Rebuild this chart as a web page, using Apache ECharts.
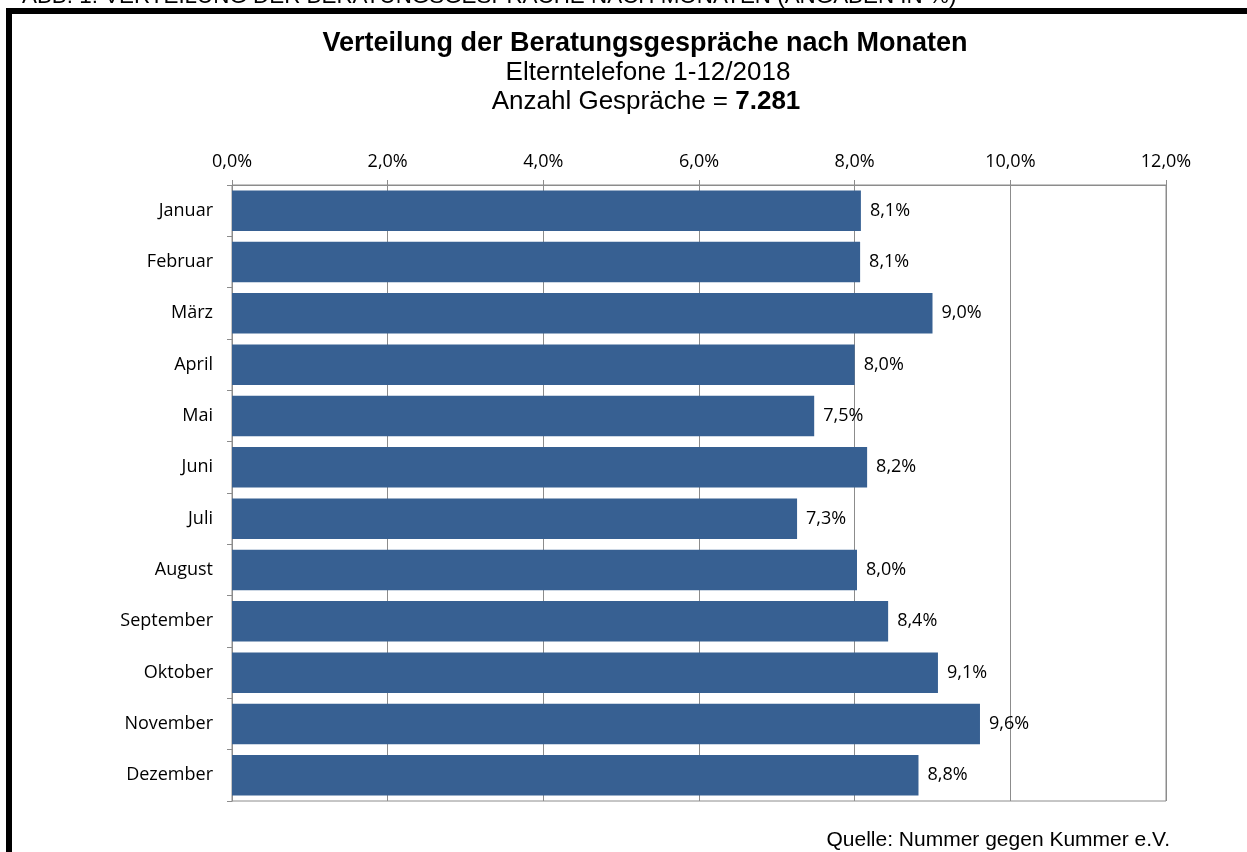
<!DOCTYPE html>
<html>
<head>
<meta charset="utf-8">
<script src="https://cdn.jsdelivr.net/npm/echarts@6/dist/echarts.min.js"></script>
<style>
html,body{margin:0;padding:0;background:#fff;}
#chart{width:1247px;height:852px;}
</style>
</head>
<body>
<div id="chart"></div>
<script>
const categories = ['Januar','Februar','März','April','Mai','Juni','Juli','August','September','Oktober','November','Dezember'];
const shares = [8.08, 8.07, 9.0, 8.0, 7.48, 8.16, 7.26, 8.03, 8.43, 9.07, 9.61, 8.82];
const axisTicks = [0, 2, 4, 6, 8, 10, 12];

const fmt = v => v.toFixed(1).replace('.', ',') + '%';

const chart = echarts.init(document.getElementById('chart'));
chart.setOption({
  animation: false,
  backgroundColor: '#fff',
  title: [{
    text: 'Verteilung der Beratungsgespräche nach Monaten',
    left: 640, top: 25, textAlign: 'center',
    textStyle: {fontFamily: 'Liberation Sans', fontSize: 27, fontWeight: 'bold', color: '#000'}
  }, {
    text: 'Elterntelefone 1-12/2018',
    left: 643, top: 55, textAlign: 'center',
    textStyle: {fontFamily: 'Liberation Sans', fontSize: 26, fontWeight: 'normal', color: '#000'}
  }, {
    text: '{n|Anzahl Gespräche = }{b|7.281}',
    left: 641, top: 84, textAlign: 'center',
    textStyle: {
      fontWeight: 'normal',
      rich: {
        n: {fontFamily: 'Liberation Sans', fontSize: 26, fontWeight: 'normal', color: '#000'},
        b: {fontFamily: 'Liberation Sans', fontSize: 26, fontWeight: 'bold', color: '#000'}
      }
    }
  }],
  graphic: [{
    type: 'text', left: 22, top: -14,
    style: {text: 'ABB. 1: VERTEILUNG DER BERATUNGSGESPRÄCHE NACH MONATEN (ANGABEN IN %)', font: '22.4px "Liberation Sans Narrow", "Liberation Sans"', fill: '#000'}
  }, {
    type: 'rect', shape: {x: 9, y: 11, width: 1400, height: 1000},
    style: {fill: 'none', stroke: '#000', lineWidth: 6}, z: 100
  }, {
    type: 'text', right: 77, top: 830,
    style: {text: 'Quelle: Nummer gegen Kummer e.V.', font: '21px "Liberation Sans"', fill: '#000'}
  }],
  grid: {left: 232, right: 81, top: 185, bottom: 51, show: true, borderColor: '#8c8c8c', borderWidth: 1},
  xAxis: {
    type: 'value', position: 'top', min: 0, max: 12, interval: 2,
    axisLine: {show: true, lineStyle: {color: '#8c8c8c'}},
    axisTick: {show: true, length: 5, lineStyle: {color: '#8c8c8c'}},
    splitLine: {show: true, lineStyle: {color: '#8c8c8c', width: 1}},
    axisLabel: {
      margin: 14, color: '#000', fontFamily: 'Open Sans', fontSize: 18,
      formatter: v => axisTicks.includes(v) ? fmt(v) : ''
    }
  },
  yAxis: {
    type: 'category', inverse: true, data: categories,
    axisLine: {show: true, lineStyle: {color: '#8c8c8c'}},
    axisTick: {show: true, length: 5, lineStyle: {color: '#8c8c8c'}},
    axisLabel: {margin: 19, color: '#000', fontFamily: 'Open Sans', fontSize: 18}
  },
  series: [{
    type: 'bar', data: shares, barCategoryGap: '21%',
    itemStyle: {color: '#376092'},
    label: {show: true, position: 'right', distance: 9, color: '#000', fontFamily: 'Open Sans', fontSize: 18, formatter: p => fmt(p.value)}
  }]
});
</script>
</body>
</html>
